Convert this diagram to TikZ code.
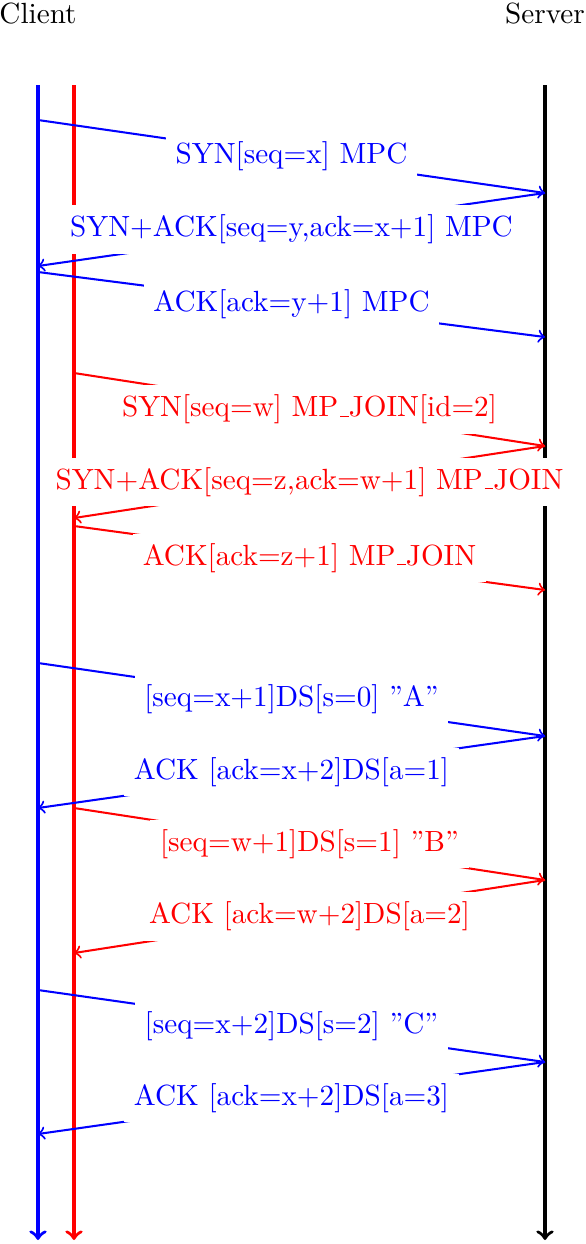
\documentclass[tikz,border=0pt]{standalone}
\newcommand\lowbar{\leavevmode\kern.06em\vbox{\hrule width.3em}}
\begin{document}
\begin{tikzpicture}[x=0.3425pt,y=-0.3425pt,
  life/.style={line width=1.15pt,->},
  msg/.style={line width=0.7pt,->},
  lbl/.style={fill=white,midway}]
\useasboundingbox (0,0) rectangle (586,1244);
\node[anchor=base] (client) at (38,23) {Client};
\node[anchor=base] (server) at (545,23) {Server};
% lifelines
\coordinate (ct) at (38,85);  \coordinate (cb) at (38,1240);
\coordinate (rt) at (74,85);  \coordinate (rb) at (74,1240);
\coordinate (st) at (545,85); \coordinate (sb) at (545,1240);
\draw[life,blue] (ct) -- (cb);
\draw[life,red] (rt) -- (rb);
\draw[life,black] (st) -- (sb);
% handshake, first subflow
\coordinate (a1) at (38,120);  \coordinate (b1) at (545,193);
\coordinate (a2) at (545,193); \coordinate (b2) at (38,266);
\coordinate (a3) at (38,272);  \coordinate (b3) at (545,337);
\draw[msg,blue] (a1) -- node[lbl] (l1) {SYN[seq=x] MPC} (b1);
\draw[msg,blue] (a2) -- node[lbl] (l2) {SYN+ACK[seq=y,ack=x+1] MPC} (b2);
\draw[msg,blue] (a3) -- node[lbl] (l3) {ACK[ack=y+1] MPC} (b3);
% handshake, second subflow
\coordinate (a4) at (74,373);  \coordinate (b4) at (545,446);
\coordinate (a5) at (545,446); \coordinate (b5) at (74,518);
\coordinate (a6) at (74,526);  \coordinate (b6) at (545,590);
\draw[msg,red] (a4) -- node[lbl] (l4) {SYN[seq=w] MP\lowbar JOIN[id=2]} (b4);
\draw[msg,red] (a5) -- node[lbl] (l5) {SYN+ACK[seq=z,ack=w+1] MP\lowbar JOIN} (b5);
\draw[msg,red] (a6) -- node[lbl] (l6) {ACK[ack=z+1] MP\lowbar JOIN} (b6);
% data
\coordinate (a7) at (38,663);   \coordinate (b7) at (545,736);
\coordinate (a8) at (545,736);  \coordinate (b8) at (38,808);
\coordinate (a9) at (74,808);   \coordinate (b9) at (545,880);
\coordinate (a10) at (545,880); \coordinate (b10) at (74,953);
\coordinate (a11) at (38,990);  \coordinate (b11) at (545,1062);
\coordinate (a12) at (545,1062);\coordinate (b12) at (38,1134);
\draw[msg,blue] (a7) -- node[lbl] (l7) {[seq=x+1]DS[s=0] \textquotedblright A\textquotedblright} (b7);
\draw[msg,blue] (a8) -- node[lbl] (l8) {ACK [ack=x+2]DS[a=1]} (b8);
\draw[msg,red] (a9) -- node[lbl] (l9) {[seq=w+1]DS[s=1] \textquotedblright B\textquotedblright} (b9);
\draw[msg,red] (a10) -- node[lbl] (l10) {ACK [ack=w+2]DS[a=2]} (b10);
\draw[msg,blue] (a11) -- node[lbl] (l11) {[seq=x+2]DS[s=2] \textquotedblright C\textquotedblright} (b11);
\draw[msg,blue] (a12) -- node[lbl] (l12) {ACK [ack=x+2]DS[a=3]} (b12);
\end{tikzpicture}
\end{document}
